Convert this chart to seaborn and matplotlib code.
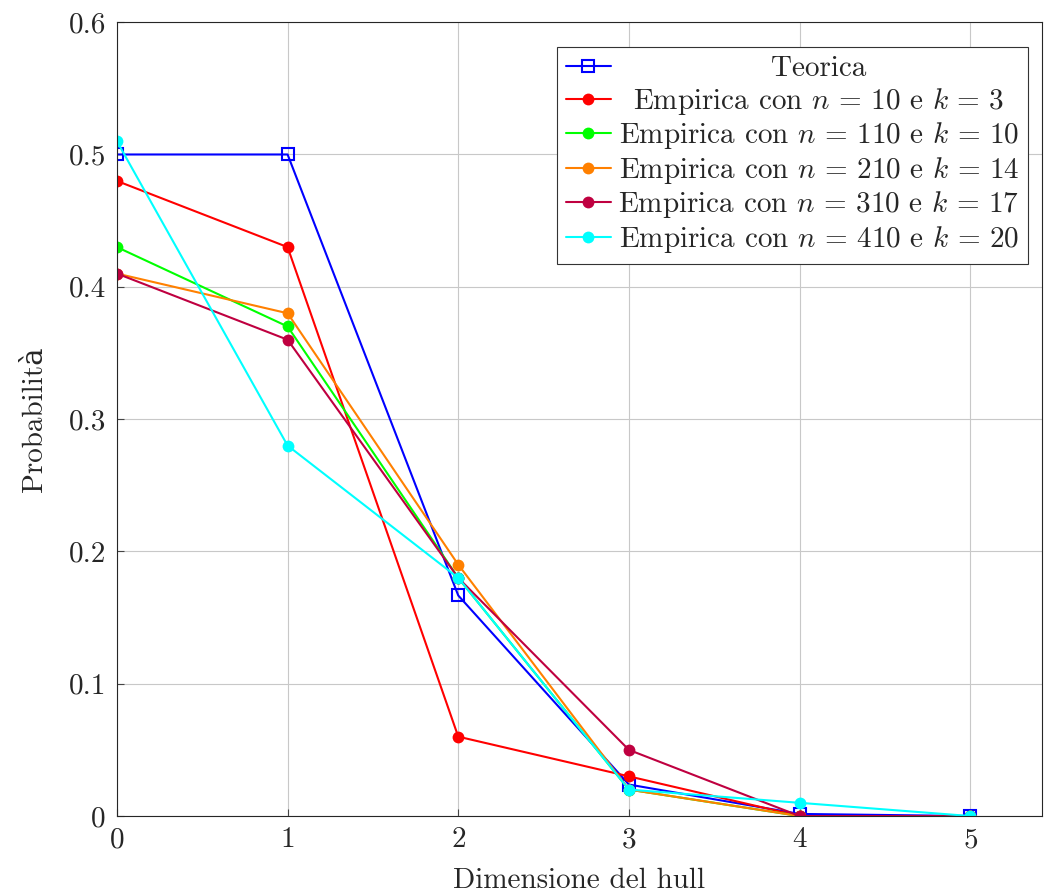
import pandas as pd
import seaborn as sns
import matplotlib.pyplot as plt

# dati
dimensione = [0, 1, 2, 3, 4, 5]
teorica = [0.5, 0.5, 0.1667, 0.0238, 0.0016, 0.0]
emp_10 = [0.48, 0.43, 0.06, 0.03, 0.0, 0.0]
emp_110 = [0.43, 0.37, 0.18, 0.02, 0.0, 0.0]
emp_210 = [0.41, 0.38, 0.19, 0.02, 0.0, 0.0]
emp_310 = [0.41, 0.36, 0.18, 0.05, 0.0, 0.0]
emp_410 = [0.51, 0.28, 0.18, 0.02, 0.01, 0.0]

etichette = [
    "Teorica",
    r"Empirica con $n\,=\,10$ e $k\,=\,3$",
    r"Empirica con $n\,=\,110$ e $k\,=\,10$",
    r"Empirica con $n\,=\,210$ e $k\,=\,14$",
    r"Empirica con $n\,=\,310$ e $k\,=\,17$",
    r"Empirica con $n\,=\,410$ e $k\,=\,20$",
]
serie = [teorica, emp_10, emp_110, emp_210, emp_310, emp_410]
colori = ["#0000ff", "#ff0000", "#00ff00", "#ff8000", "#bf0040", "#00ffff"]

sns.set_style("ticks")
plt.rcParams["font.family"] = ["cmr10", "DejaVu Serif"]
plt.rcParams["mathtext.fontset"] = "cm"
plt.rcParams["axes.formatter.use_mathtext"] = True

fig = plt.figure(figsize=(10.44, 8.94), dpi=100)
ax = fig.add_axes([0.112, 0.0872, 0.886, 0.888])

for valori, nome, col in zip(serie, etichette, colori):
    df = pd.DataFrame({"x": dimensione, "y": valori})
    if nome == "Teorica":
        sns.lineplot(data=df, x="x", y="y", ax=ax, color=col, label=nome,
                     marker="s", markersize=8, markerfacecolor="none",
                     markeredgecolor=col, markeredgewidth=1.5, linewidth=1.5)
    else:
        sns.lineplot(data=df, x="x", y="y", ax=ax, color=col, label=nome,
                     marker="o", markersize=8.5, markeredgewidth=0, linewidth=1.5)

ax.set_xlim(0, 5.42)
ax.set_ylim(0, 0.6)
ax.set_xticks(dimensione)
ax.set_yticks([0, 0.1, 0.2, 0.3, 0.4, 0.5, 0.6])
ax.set_yticklabels(["0", "0.1", "0.2", "0.3", "0.4", "0.5", "0.6"])
ax.grid(True, color="#c8c8c8", linewidth=0.8)
ax.tick_params(direction="in", labelsize=21, length=5, pad=8, color="#444444",
               top=False, right=False)
for s in ax.spines.values():
    s.set_linewidth(0.8)

ax.set_xlabel("Dimensione del hull", fontsize=21, labelpad=10)
ax.set_ylabel("Probabilità", fontsize=21, labelpad=15)

leg = ax.legend(loc="upper right", bbox_to_anchor=(0.985, 0.9685),
                fontsize=21, frameon=True, fancybox=False,
                edgecolor="#333333", framealpha=1, borderaxespad=0,
                borderpad=0.3, handlelength=1.55, labelspacing=0.12,
                handletextpad=0.25)
leg.get_frame().set_linewidth(0.8)

# testi della legenda centrati come in pgfplots
renderer = fig.canvas.get_renderer()
larghezze = [t.get_window_extent(renderer).width for t in leg.get_texts()]
wmax = max(larghezze)
for t, w in zip(leg.get_texts(), larghezze):
    t.set_x((wmax - w) / 2)

fig.savefig("out.png", dpi=100)
